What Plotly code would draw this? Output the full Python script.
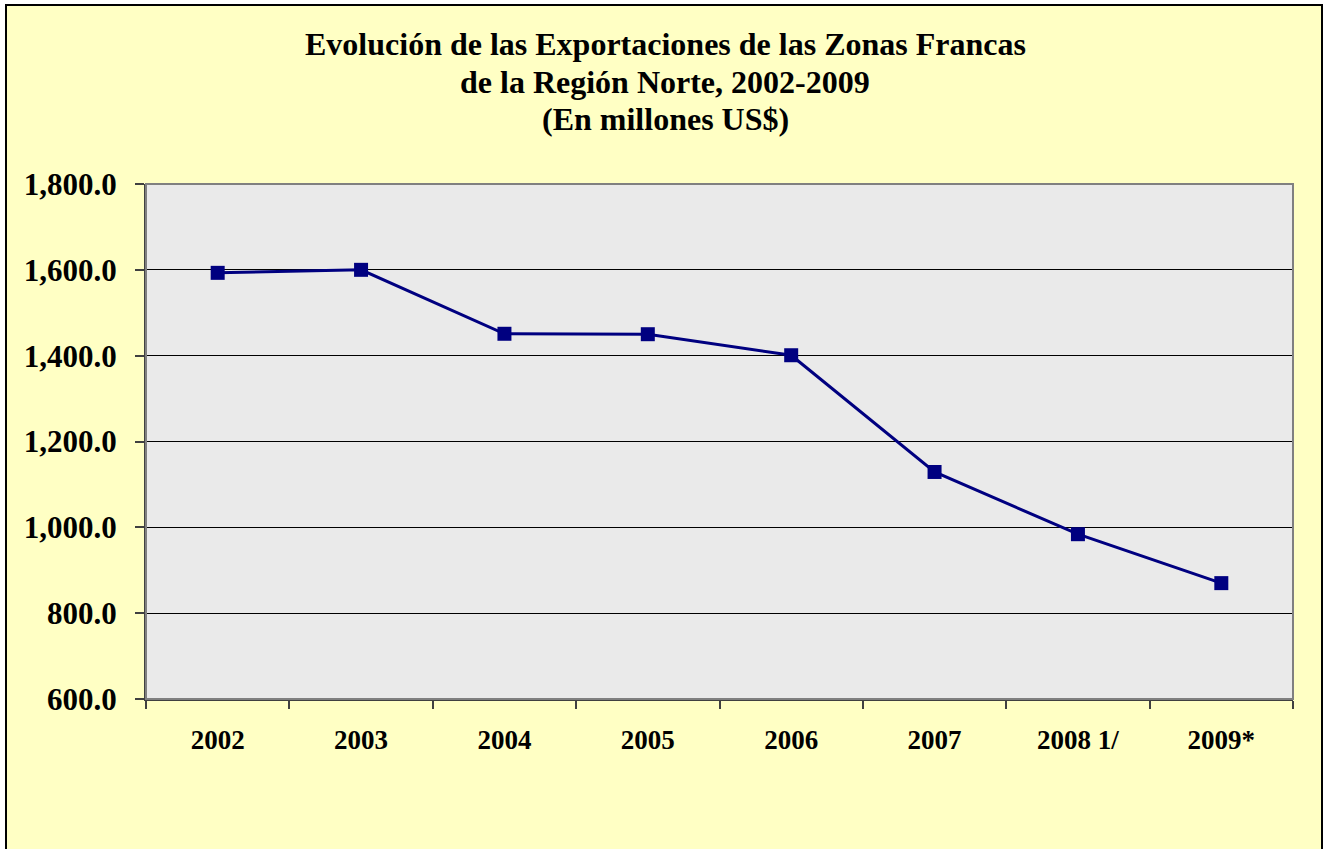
import plotly.graph_objects as go

categories = ["2002", "2003", "2004", "2005", "2006", "2007", "2008 1/", "2009*"]
exports = [1593.0, 1600.0, 1451.0, 1450.0, 1401.0, 1129.0, 984.0, 870.0]
y_ticks = [600, 800, 1000, 1200, 1400, 1600, 1800]

title_lines = ["Evolución de las Exportaciones de las Zonas Francas",
               "de la Región Norte, 2002-2009",
               "(En millones US$)"]

W, H = 1323, 849
L, R, T, B = 146, 30, 184, 150
pw, ph = W - L - R, H - T - B

def px_x(px):
    return (px - L) / pw

def px_y(py):
    return (H - B - py) / ph

fig = go.Figure()
fig.add_trace(go.Scatter(
    x=categories, y=exports, mode="lines+markers",
    line=dict(color="#000080", width=3),
    marker=dict(symbol="square", size=14, color="#000080"),
    showlegend=False, hoverinfo="x+y",
))

fig.update_layout(
    width=W, height=H,
    margin=dict(l=L, r=R, t=T, b=B),
    paper_bgcolor="white",
    plot_bgcolor="#EAEAEA",
    font=dict(family="Liberation Serif", color="black"),
    xaxis=dict(
        type="category", tickson="boundaries", ticks="outside", ticklen=8,
        tickcolor="#404040", tickwidth=1.5, showgrid=False,
        showline=True, linecolor="#404040", linewidth=2, mirror=False,
        tickfont=dict(size=27, family="Liberation Serif", color="black",
                      weight="bold"),
        ticklabelstandoff=16, range=[-0.5, 7.5],
    ),
    yaxis=dict(
        range=[600, 1800], tickvals=y_ticks, tickformat=",.1f",
        ticks="outside", ticklen=9, tickcolor="#404040", tickwidth=1.5,
        showgrid=True, gridcolor="black", gridwidth=1,
        showline=True, linecolor="#404040", linewidth=2,
        tickfont=dict(size=31, family="Liberation Serif", color="black",
                      weight="bold"),
        ticklabelstandoff=12, zeroline=False,
    ),
)

# chart area frame (yellow background with black border)
fig.add_shape(type="rect", xref="paper", yref="paper",
              x0=px_x(6), x1=px_x(1322), y0=px_y(870), y1=px_y(5),
              line=dict(color="black", width=2), fillcolor="#FFFFC4",
              layer="below")
# plot area fill
fig.add_shape(type="rect", xref="paper", yref="paper",
              x0=0, x1=1, y0=0, y1=1,
              line=dict(width=0), fillcolor="#EAEAEA", layer="below")
# plot area border
fig.add_shape(type="rect", xref="paper", yref="paper",
              x0=0, x1=1, y0=0, y1=1,
              line=dict(color="#808080", width=2), fillcolor="rgba(0,0,0,0)")

centers = [44, 82, 119]
for line, cy in zip(title_lines, centers):
    fig.add_annotation(text="<b>" + line + "</b>", xref="paper", yref="paper",
                       x=px_x(665), y=px_y(cy), xanchor="center", yanchor="middle",
                       showarrow=False,
                       font=dict(family="Liberation Serif", size=32, color="black"))

fig.write_html("out.html", config={"displayModeBar": False},
               post_script="document.body.style.margin='0';")
